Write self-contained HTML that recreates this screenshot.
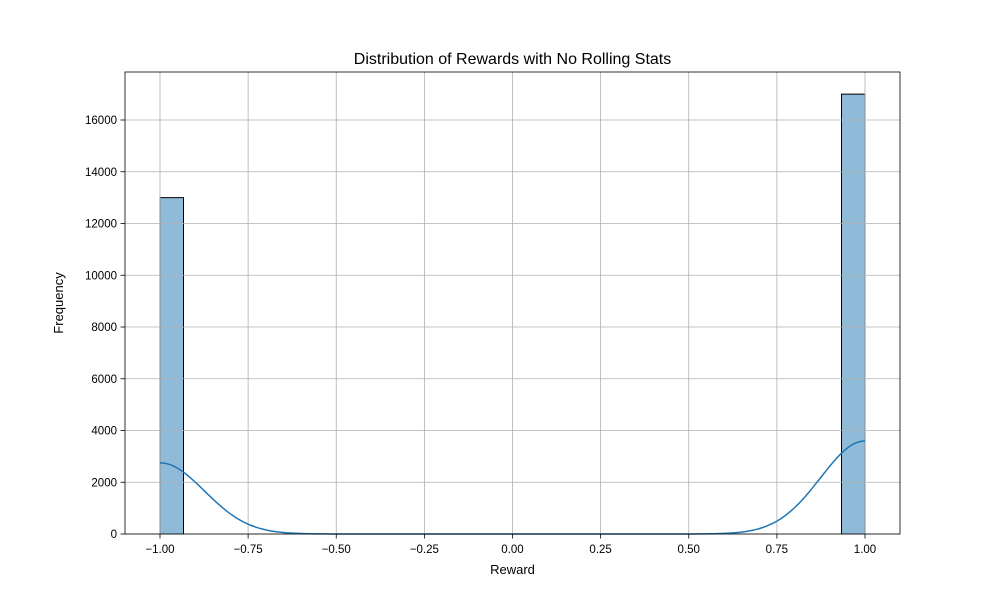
<!DOCTYPE html>
<html><head><meta charset="utf-8"><style>
body{margin:0;background:#fff;}
svg{display:block;font-family:"Liberation Sans","DejaVu Sans",sans-serif;}
</style></head><body>
<svg id="chart" width="1000" height="600" viewBox="0 0 1000 600">
<rect width="1000" height="600" fill="#fff"/>
<text x="512.5" y="64" text-anchor="middle" font-size="16">Distribution of Rewards with No Rolling Stats</text>
<g id="bars"></g><g id="grid"></g><g id="kde"></g><g id="axes"></g>
<text x="512.5" y="574" text-anchor="middle" font-size="13">Reward</text>
<text transform="translate(63,303) rotate(-90)" text-anchor="middle" font-size="13">Frequency</text>
</svg>
<script>
const rewardValues = [-1, 1];
const rewardCounts = [13000, 17000];
const xTicks = [-1, -0.75, -0.5, -0.25, 0, 0.25, 0.5, 0.75, 1];
const xTickLabels = ["−1.00","−0.75","−0.50","−0.25","0.00","0.25","0.50","0.75","1.00"];
const yTicks = [0,2000,4000,6000,8000,10000,12000,14000,16000];
const nBins = 30;
const bandwidth = 0.1257;

const NS="http://www.w3.org/2000/svg";
const L=125,R=900,T=72,B=534;
const xs=v=>160+(v+1)*352.5;
const ys=v=>B-v*0.025875;
function mk(tag,attrs,parent){const e=document.createElementNS(NS,tag);for(const k in attrs)e.setAttribute(k,attrs[k]);parent.appendChild(e);return e;}
const gBars=document.getElementById('bars'),gGrid=document.getElementById('grid'),gKde=document.getElementById('kde'),gAx=document.getElementById('axes');
const xmin=Math.min(...rewardValues),xmax=Math.max(...rewardValues),bw=(xmax-xmin)/nBins;
const counts=new Array(nBins).fill(0);
rewardValues.forEach((v,i)=>{let b=Math.floor((v-xmin)/bw);if(b>=nBins)b=nBins-1;counts[b]+=rewardCounts[i];});
counts.forEach((c,i)=>{
  const x0=xs(xmin+i*bw),x1=xs(xmin+(i+1)*bw);
  const r=mk('rect',{x:x0,y:ys(c),width:x1-x0,height:B-ys(c),fill:'rgb(143,187,217)',stroke:'#000','stroke-width':1},gBars);
  
  
});
xTicks.forEach((t,i)=>{
  const l=mk('line',{x1:xs(t),x2:xs(t),y1:T,y2:B,stroke:'#b0b0b0','stroke-width':0.8},gGrid);
  
  
  mk('line',{x1:xs(t),x2:xs(t),y1:B,y2:B+4.5,stroke:'#000','stroke-width':0.8},gAx);
  const tx=mk('text',{x:xs(t),y:B+19,'text-anchor':'middle','font-size':11.5},gAx);
  tx.textContent=xTickLabels[i];
  
  
});
yTicks.forEach(t=>{
  const l=mk('line',{x1:L,x2:R,y1:ys(t),y2:ys(t),stroke:'#b0b0b0','stroke-width':0.8},gGrid);
  
  
  mk('line',{x1:L-4.5,x2:L,y1:ys(t),y2:ys(t),stroke:'#000','stroke-width':0.8},gAx);
  const tx=mk('text',{x:L-8,y:ys(t)+4,'text-anchor':'end','font-size':11.5},gAx);
  tx.textContent=String(t);
  
  
});
// KDE scaled to counts
let pts=[];
for(let k=0;k<=200;k++){
  const x=xmin+(xmax-xmin)*k/200;let d=0;
  rewardValues.forEach((v,i)=>{const z=(x-v)/bandwidth;d+=rewardCounts[i]*Math.exp(-0.5*z*z)/(bandwidth*Math.sqrt(2*Math.PI));});
  pts.push(xs(x).toFixed(2)+','+ys(d*bw).toFixed(2));
}
const kl=mk('polyline',{points:pts.join(' '),fill:'none',stroke:'#1f77b4','stroke-width':1.5},gKde);


const fr=mk('rect',{x:L,y:T,width:R-L,height:B-T,fill:'none',stroke:'#000','stroke-width':0.8},gAx);


</script>
</body></html>
